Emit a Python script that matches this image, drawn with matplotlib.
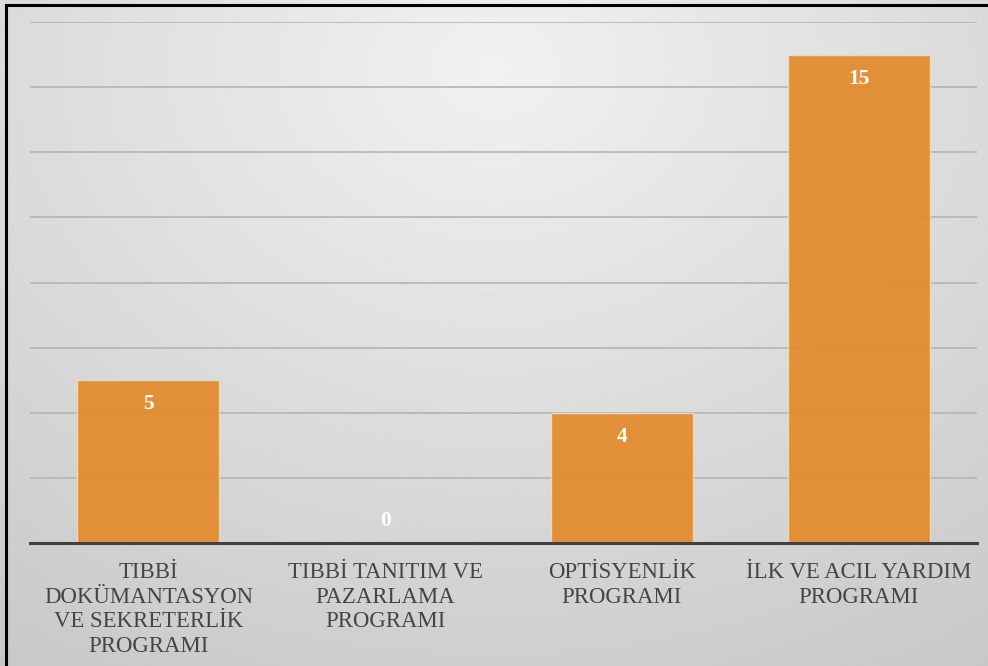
import numpy as np
import matplotlib.pyplot as plt
from matplotlib.lines import Line2D

categories = [
    "TIBBİ\nDOKÜMANTASYON\nVE SEKRETERLİK\nPROGRAMI",
    "TIBBİ TANITIM VE\nPAZARLAMA\nPROGRAMI",
    "OPTİSYENLİK\nPROGRAMI",
    "İLK VE ACIL YARDIM\nPROGRAMI",
]
values = [5, 0, 4, 15]
y_ticks = [0, 2, 4, 6, 8, 10, 12, 14, 16]

plt.rcParams["font.family"] = ["Liberation Serif", "DejaVu Serif"]

W, H = 988, 666
fig = plt.figure(figsize=(W / 100, H / 100), dpi=100)

# radial grey background, light near the top middle
bg = fig.add_axes([0, 0, 1, 1], zorder=-10)
yy, xx = np.mgrid[0:1:300j, 0:1:450j]
r = np.sqrt(((xx - 0.5) / 0.85) ** 2 + ((yy - 0.1) / 1.0) ** 2)
shade = np.clip(0.945 - 0.15 * r, 0.78, 1.0)
bg.imshow(shade, cmap="gray", vmin=0, vmax=1, aspect="auto",
          extent=[0, 1, 1, 0], interpolation="bilinear")
bg.set_xlim(0, 1)
bg.set_ylim(1, 0)
bg.axis("off")

ax = fig.add_axes([30 / W, 1 - 543 / H, (977 - 30) / W, (543 - 22) / H])
ax.patch.set_alpha(0)
x = np.arange(len(categories))
bars = ax.bar(x, values, width=0.6, color="#E38B2C", alpha=0.93,
              edgecolor="#F6D9B0", linewidth=1.0, zorder=3)

ax.set_ylim(0, 16)
ax.set_xlim(-0.5, len(categories) - 0.5)
ax.set_yticks(y_ticks)
ax.yaxis.grid(True, color="#B4B4B4", linewidth=1.2, zorder=0)
ax.tick_params(axis="y", left=False, labelleft=False)
ax.tick_params(axis="x", length=0, pad=14)
ax.set_xticks(x)
ax.set_xticklabels(categories, fontsize=16.4, color="#454545", linespacing=1.22)
for s in ["top", "right", "left"]:
    ax.spines[s].set_visible(False)
ax.spines["bottom"].set_color("#404040")
ax.spines["bottom"].set_linewidth(2.2)
ax.spines["bottom"].set_zorder(4)

for xi, v in zip(x, values):
    off = -24 if v > 0 else 22
    ax.annotate(str(v), (xi, v), xytext=(0, off), textcoords="offset pixels",
                ha="center", va="center", color="white", fontsize=15.5,
                fontweight="bold", zorder=5)

# frame lines at left and top edge
fig.add_artist(Line2D([6 / W, 6 / W], [0, 1 - 5 / H], color="black", linewidth=2.2))
fig.add_artist(Line2D([6 / W, 1], [1 - 5 / H, 1 - 5 / H], color="black", linewidth=2.2))

fig.savefig("out.png", dpi=100)
